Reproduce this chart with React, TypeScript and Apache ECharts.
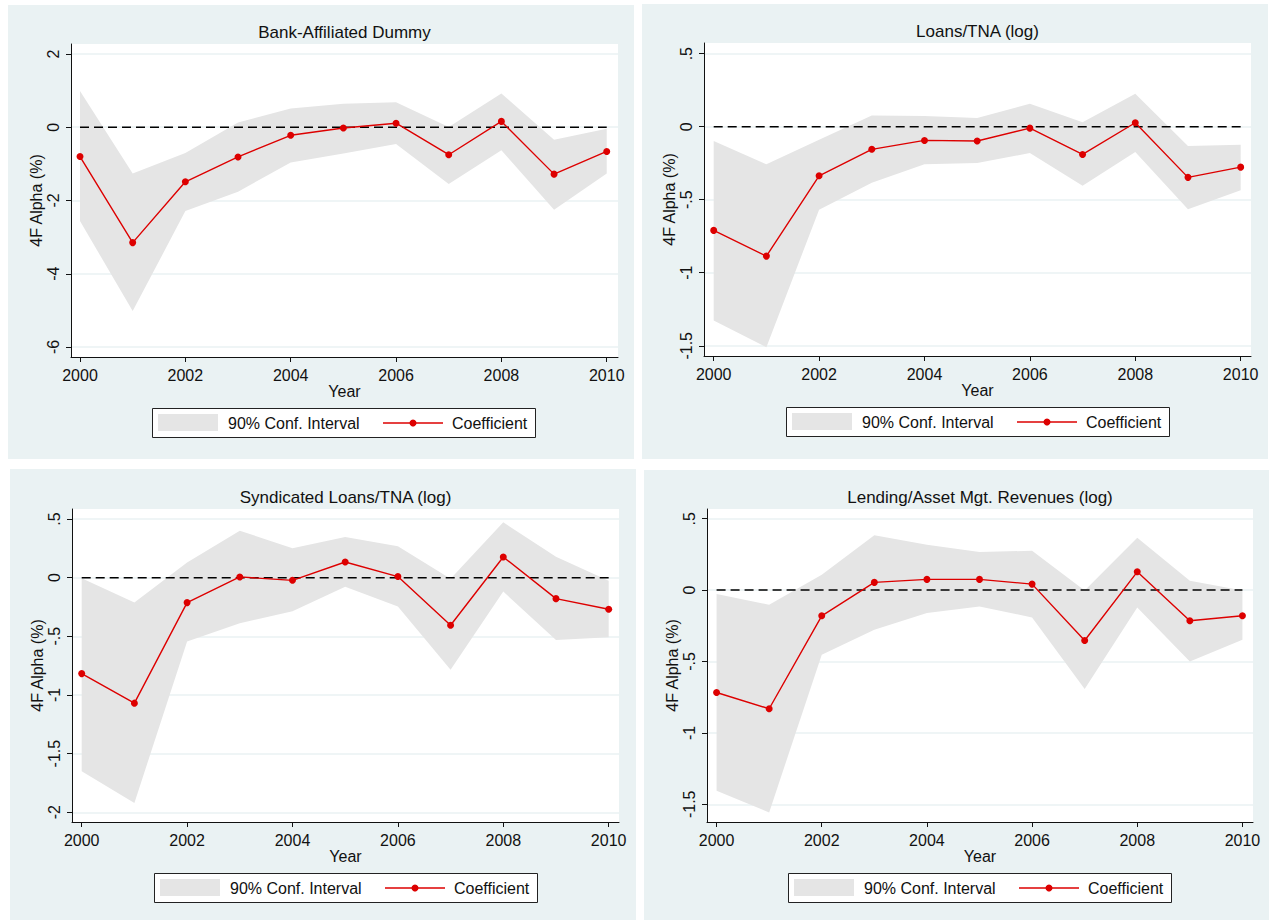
import React, { useEffect, useRef } from "react";
import * as echarts from "echarts";

const years = [2000, 2001, 2002, 2003, 2004, 2005, 2006, 2007, 2008, 2009, 2010];
const xTicks = [2000, 2002, 2004, 2006, 2008, 2010];

const bankCoef = [-0.8, -3.15, -1.49, -0.81, -0.22, -0.02, 0.11, -0.75, 0.16, -1.28, -0.66];
const bankUpper = [0.99, -1.26, -0.7, 0.13, 0.51, 0.64, 0.68, 0.01, 0.92, -0.34, -0.04];
const bankLower = [-2.56, -5.02, -2.29, -1.76, -0.96, -0.72, -0.46, -1.55, -0.63, -2.25, -1.26];
const bankTicks = [-6, -4, -2, 0, 2];

const loansCoef = [-0.71, -0.886, -0.336, -0.155, -0.094, -0.098, -0.01, -0.19, 0.027, -0.347, -0.277];
const loansUpper = [-0.098, -0.258, -0.09, 0.077, 0.073, 0.059, 0.157, 0.03, 0.226, -0.133, -0.123];
const loansLower = [-1.327, -1.51, -0.568, -0.384, -0.258, -0.249, -0.18, -0.404, -0.174, -0.566, -0.436];
const loansTicks = [-1.5, -1, -0.5, 0, 0.5];

const syndCoef = [-0.818, -1.07, -0.213, 0.006, -0.023, 0.133, 0.009, -0.406, 0.176, -0.179, -0.27];
const syndUpper = [-0.005, -0.213, 0.13, 0.4, 0.25, 0.346, 0.267, -0.01, 0.471, 0.179, -0.026];
const syndLower = [-1.65, -1.92, -0.545, -0.389, -0.287, -0.077, -0.247, -0.786, -0.119, -0.531, -0.508];
const syndTicks = [-2, -1.5, -1, -0.5, 0, 0.5];

const lendCoef = [-0.717, -0.831, -0.18, 0.054, 0.075, 0.075, 0.042, -0.353, 0.128, -0.215, -0.18];
const lendUpper = [-0.028, -0.103, 0.107, 0.385, 0.318, 0.266, 0.276, -0.002, 0.367, 0.065, -0.002];
const lendLower = [-1.406, -1.557, -0.453, -0.278, -0.161, -0.114, -0.191, -0.693, -0.121, -0.5, -0.348];
const lendTicks = [-1.5, -1, -0.5, 0, 0.5];

const titles = [
  "Bank-Affiliated Dummy",
  "Loans/TNA (log)",
  "Syndicated Loans/TNA (log)",
  "Lending/Asset Mgt. Revenues (log)",
];
const legendLabels = ["90% Conf. Interval", "Coefficient"];
const xName = "Year";
const yName = "4F Alpha (%)";

const FONT = "'Liberation Sans', Arial, Helvetica, sans-serif";
const RED = "#dd0000";
const BAND = "#e5e5e5";
const PANEL_BG = "#eaf2f3";

const panels = [
  {
    coef: bankCoef, upper: bankUpper, lower: bankLower, ticks: bankTicks,
    bg: [8, 5, 626, 454],
    grid: { left: 71, top: 44, width: 547, height: 313 },
    ymin: -6.273, ymax: 2.273, xmin: 1999.829, xmax: 2010.214,
    titleY: 32, legend: [152, 408],
  },
  {
    coef: loansCoef, upper: loansUpper, lower: loansLower, ticks: loansTicks,
    bg: [642, 4, 626, 455],
    grid: { left: 704, top: 43, width: 547, height: 313 },
    ymin: -1.57, ymax: 0.573, xmin: 1999.816, xmax: 2010.196,
    titleY: 31, legend: [786, 407],
  },
  {
    coef: syndCoef, upper: syndUpper, lower: syndLower, ticks: syndTicks,
    bg: [10, 469, 626, 451],
    grid: { left: 72, top: 509, width: 547, height: 313 },
    ymin: -2.083, ymax: 0.585, xmin: 1999.816, xmax: 2010.196,
    titleY: 497, legend: [154, 873],
  },
  {
    coef: lendCoef, upper: lendUpper, lower: lendLower, ticks: lendTicks,
    bg: [644, 470, 625, 450],
    grid: { left: 707, top: 509, width: 546, height: 313 },
    ymin: -1.624, ymax: 0.568, xmin: 1999.818, xmax: 2010.201,
    titleY: 497, legend: [788, 873],
  },
];

const fmtY = (v: number) => {
  const r = Math.round(v * 100) / 100;
  return String(r).replace(/^(-?)0\./, "$1.");
};

export default function App() {
  const ref = useRef<HTMLDivElement>(null);

  useEffect(() => {
    if (!ref.current) return;
    const chart = echarts.init(ref.current, null, { renderer: "svg" });

    const grids: any[] = [];
    const xAxes: any[] = [];
    const yAxes: any[] = [];
    const series: any[] = [];
    const graphics: any[] = [];

    panels.forEach((p, i) => {
      graphics.push({
        type: "rect",
        shape: { x: p.bg[0], y: p.bg[1], width: p.bg[2], height: p.bg[3] },
        style: { fill: PANEL_BG },
        z: -10,
        silent: true,
      });
      graphics.push({
        type: "rect",
        shape: { x: p.grid.left, y: p.grid.top, width: p.grid.width, height: p.grid.height },
        style: { fill: "#ffffff" },
        z: -9,
        silent: true,
      });
      graphics.push({
        type: "text",
        x: p.grid.left + p.grid.width / 2,
        y: p.titleY,
        style: {
          text: titles[i],
          font: `17px ${FONT}`,
          fill: "#111",
          textAlign: "center",
          textVerticalAlign: "middle",
        },
        silent: true,
      });
      // legend
      const [lx, ly] = p.legend;
      graphics.push({
        type: "rect",
        shape: { x: lx + 0.5, y: ly + 0.5, width: 383, height: 29 },
        style: { fill: "#ffffff", stroke: "#222", lineWidth: 1 },
        silent: true,
      });
      graphics.push({
        type: "rect",
        shape: { x: lx + 6, y: ly + 6, width: 60, height: 17 },
        style: { fill: BAND },
        silent: true,
      });
      graphics.push({
        type: "text",
        x: lx + 76,
        y: ly + 15,
        style: { text: legendLabels[0], font: `16px ${FONT}`, fill: "#111", textVerticalAlign: "middle" },
        silent: true,
      });
      graphics.push({
        type: "line",
        shape: { x1: lx + 231, y1: ly + 15, x2: lx + 291, y2: ly + 15 },
        style: { stroke: RED, lineWidth: 1.4 },
        silent: true,
      });
      graphics.push({
        type: "circle",
        shape: { cx: lx + 261, cy: ly + 15, r: 3.5 },
        style: { fill: RED },
        silent: true,
      });
      graphics.push({
        type: "text",
        x: lx + 300,
        y: ly + 15,
        style: { text: legendLabels[1], font: `16px ${FONT}`, fill: "#111", textVerticalAlign: "middle" },
        silent: true,
      });

      grids.push({ ...p.grid, containLabel: false, show: false });

      xAxes.push({
        type: "value",
        gridIndex: i,
        min: p.xmin,
        max: p.xmax,
        name: xName,
        nameLocation: "middle",
        nameGap: 26,
        nameTextStyle: { fontFamily: FONT, fontSize: 16, color: "#111" },
        axisLine: { onZero: false, lineStyle: { color: "#111", width: 1 } },
        axisTick: { show: true, length: 5, customValues: xTicks, lineStyle: { color: "#111" } },
        axisLabel: {
          customValues: xTicks,
          margin: 10,
          fontFamily: FONT,
          fontSize: 16,
          color: "#111",
          formatter: (v: number) => String(Math.round(v)),
        },
        splitLine: { show: false },
      });

      yAxes.push({
        type: "value",
        gridIndex: i,
        min: p.ymin,
        max: p.ymax,
        name: yName,
        nameLocation: "middle",
        nameGap: 27,
        nameTextStyle: { fontFamily: FONT, fontSize: 16, color: "#111" },
        axisLine: { show: true, onZero: false, lineStyle: { color: "#111", width: 1 } },
        axisTick: { show: true, length: 5, customValues: p.ticks, lineStyle: { color: "#111" } },
        axisLabel: {
          customValues: p.ticks,
          rotate: 90,
          margin: 10,
          fontFamily: FONT,
          fontSize: 16,
          color: "#111",
          formatter: fmtY,
        },
        splitLine: { show: true, lineStyle: { color: PANEL_BG, width: 1.5 } },
      });

      const up = p.upper;
      const lo = p.lower;
      series.push({
        type: "custom",
        xAxisIndex: i,
        yAxisIndex: i,
        silent: true,
        z: 1,
        data: years.map((y, k) => [y, lo[k], up[k]]),
        encode: { x: 0, y: [1, 2] },
        renderItem: (params: any, api: any) => {
          if (params.dataIndex !== 0) return null;
          const top = years.map((y, k) => api.coord([y, up[k]]));
          const bot = years.map((y, k) => api.coord([y, lo[k]])).reverse();
          return {
            type: "polygon",
            shape: { points: top.concat(bot) },
            style: { fill: BAND },
          };
        },
      });
      series.push({
        type: "line",
        xAxisIndex: i,
        yAxisIndex: i,
        silent: true,
        z: 2,
        symbol: "none",
        data: [
          [years[0], 0],
          [years[years.length - 1], 0],
        ],
        lineStyle: { color: "#000", width: 1.5, type: [9, 5] },
      });
      series.push({
        type: "line",
        name: legendLabels[1],
        xAxisIndex: i,
        yAxisIndex: i,
        z: 3,
        symbol: "circle",
        symbolSize: 7,
        data: years.map((y, k) => [y, p.coef[k]]),
        itemStyle: { color: RED },
        lineStyle: { color: RED, width: 1.4 },
      });
    });

    chart.setOption({
      animation: false,
      backgroundColor: "#ffffff",
      grid: grids,
      xAxis: xAxes,
      yAxis: yAxes,
      series,
      graphic: { elements: graphics },
    });

    return () => chart.dispose();
  }, []);

  return (
    <div
      ref={ref}
      style={{ position: "fixed", left: 0, top: 0, width: 1270, height: 920 }}
    />
  );
}
